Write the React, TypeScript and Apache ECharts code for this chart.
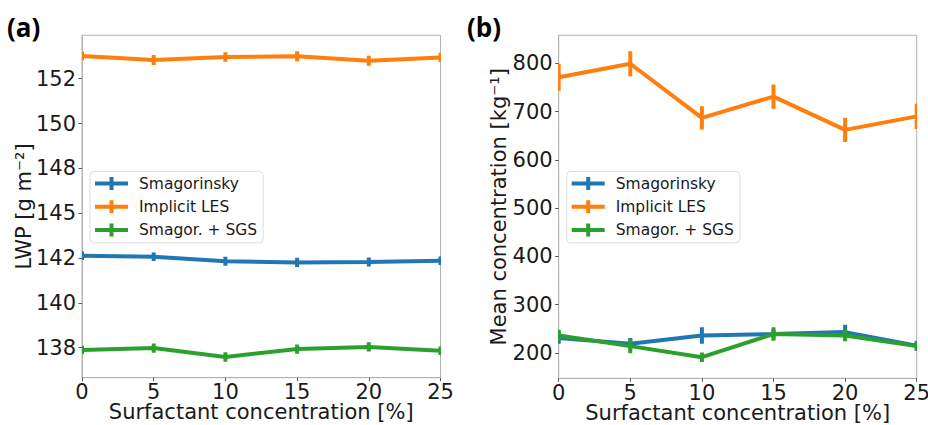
import React, { useEffect, useRef } from "react";
import * as echarts from "echarts";

// ---- data ----
const xValues = [0, 5, 10, 15, 20, 25];
const seriesNames = ["Smagorinsky", "Implicit LES", "Smagor. + SGS"];
const seriesColors = ["#1f77b4", "#ff7f0e", "#2ca02c"];

// Panel (a): LWP
const lwpSmag = [142.79, 142.74, 142.5, 142.44, 142.46, 142.53];
const lwpSmagErr = [0.22, 0.22, 0.24, 0.24, 0.23, 0.22];
const lwpImplicit = [153.18, 152.97, 153.13, 153.17, 152.94, 153.11];
const lwpImplicitErr = [0.22, 0.26, 0.25, 0.26, 0.26, 0.24];
const lwpSgs = [137.88, 137.98, 137.52, 137.93, 138.04, 137.84];
const lwpSgsErr = [0.22, 0.24, 0.25, 0.24, 0.24, 0.22];
const lwpTickLabels = ["138", "140", "142", "145", "148", "150", "152"];
const lwpTickFirst = 138;
const lwpTickLast = 152;
const lwpRange = [136.44, 154.26];

// Panel (b): mean concentration
const concSmag = [231, 219, 236, 239, 243, 215];
const concSmagErr = [12, 12, 17, 9, 15, 10];
const concImplicit = [771, 799, 687, 731, 662, 690];
const concImplicitErr = [28, 26, 24, 25, 25, 26];
const concSgs = [236, 214, 191, 239, 236, 214];
const concSgsErr = [12, 15, 10, 14, 12, 10];
const concTickLabels = ["200", "300", "400", "500", "600", "700", "800"];
const concRange = [147.3, 858];

const FONT = "DejaVu Sans";

const legendIcon =
  "path://M0,4.5 L14.5,4.5 L14.5,0 L18.5,0 L18.5,4.5 L33,4.5 L33,8.5 L18.5,8.5 L18.5,13 L14.5,13 L14.5,8.5 L0,8.5 Z";

function buildSeries(gridIdx: number, values: number[][], errs: number[][]) {
  const out: any[] = [];
  values.forEach((vals, i) => {
    const color = seriesColors[i];
    out.push({
      type: "line",
      name: seriesNames[i],
      xAxisIndex: gridIdx,
      yAxisIndex: gridIdx,
      data: xValues.map((x, k) => [x, vals[k]]),
      symbol: "none",
      lineStyle: { color, width: 4 },
      itemStyle: { color },
      clip: true,
      z: 2 + i,
    });
    out.push({
      type: "custom",
      name: seriesNames[i],
      xAxisIndex: gridIdx,
      yAxisIndex: gridIdx,
      data: xValues.map((x, k) => [x, vals[k], errs[i][k]]),
      encode: { x: 0, y: 1 },
      clip: true,
      z: 2 + i,
      itemStyle: { color },
      renderItem: (params: any, api: any) => {
        const x = api.value(0);
        const y = api.value(1);
        const e = api.value(2);
        const p1 = api.coord([x, y - e]);
        const p2 = api.coord([x, y + e]);
        return {
          type: "line",
          shape: { x1: p1[0], y1: p1[1], x2: p2[0], y2: p2[1] },
          style: { stroke: color, lineWidth: 4 },
        };
      },
    });
  });
  return out;
}

const axisLabelStyle = { fontFamily: FONT, fontSize: 21, color: "#1a1a1a" };
const gray = "#b3b3b3";

function xAxisCfg(gridIndex: number) {
  return {
    type: "value",
    gridIndex,
    min: 0,
    max: 25,
    interval: 5,
    name: "Surfactant concentration [%]",
    nameLocation: "middle",
    nameGap: 26,
    nameMoveOverlap: false,
    nameTextStyle: { fontFamily: FONT, fontSize: 21, lineHeight: 17, color: "#1a1a1a" },
    axisLine: { show: true, lineStyle: { color: gray, width: 1 } },
    axisTick: { show: true, length: 3.5, lineStyle: { color: "#555" } },
    axisLabel: { ...axisLabelStyle, lineHeight: 17, margin: 6 },
    splitLine: { show: false },
  };
}

function evenTicks(first: number, last: number, n: number) {
  const arr: number[] = [];
  for (let i = 0; i < n; i++) arr.push(first + ((last - first) * i) / (n - 1));
  return arr;
}

export default function App() {
  const ref = useRef<HTMLDivElement>(null);
  useEffect(() => {
    if (!ref.current) return;
    const chart = echarts.init(ref.current, null, { renderer: "svg" });
    const lwpTicks = evenTicks(lwpTickFirst, lwpTickLast, lwpTickLabels.length);
    const concTicks = concTickLabels.map((s) => Number(s));
    const labelFor = (ticks: number[], labels: string[]) => (v: number) => {
      let best = 0;
      ticks.forEach((t, i) => {
        if (Math.abs(t - v) < Math.abs(ticks[best] - v)) best = i;
      });
      return labels[best];
    };
    const legendCommon = {
      orient: "vertical",
      top: 171.5,
      icon: legendIcon,
      itemWidth: 33,
      itemHeight: 13,
      itemGap: 7.2,
      padding: [4, 6, 5, 5],
      backgroundColor: "#ffffff",
      borderColor: "#dddddd",
      borderWidth: 1,
      borderRadius: 4,
      itemStyle: { borderWidth: 0 },
      textStyle: {
        fontFamily: FONT,
        fontSize: 15.5,
        lineHeight: 15.5,
        color: "#1a1a1a",
        padding: [0, 0, 0, 6],
      },
      data: seriesNames,
      selectedMode: false,
    };
    const gridCommon = {
      show: true,
      borderColor: gray,
      borderWidth: 1,
      backgroundColor: "transparent",
      containLabel: false,
      outerBoundsMode: "none",
    };
    const option: any = {
      animation: false,
      backgroundColor: "#ffffff",
      grid: [
        { ...gridCommon, left: 82, top: 35.3, width: 358.5, height: 342.4 },
        { ...gridCommon, left: 558.7, top: 35.3, width: 358, height: 343 },
      ],
      xAxis: [xAxisCfg(0), xAxisCfg(1)],
      yAxis: [
        {
          type: "value",
          gridIndex: 0,
          min: lwpRange[0],
          max: lwpRange[1],
          name: "LWP [g m\u207B\u00B2]",
          nameLocation: "middle",
          nameGap: 48,
          nameMoveOverlap: false,
          nameTextStyle: { fontFamily: FONT, fontSize: 21, color: "#1a1a1a" },
          axisLine: { show: true, lineStyle: { color: gray } },
          axisTick: {
            show: true,
            length: 3.5,
            customValues: lwpTicks,
            lineStyle: { color: "#555" },
          },
          axisLabel: {
            ...axisLabelStyle,
            margin: 6,
            customValues: lwpTicks,
            formatter: labelFor(lwpTicks, lwpTickLabels),
          },
          splitLine: { show: false },
        },
        {
          type: "value",
          gridIndex: 1,
          min: concRange[0],
          max: concRange[1],
          name: "Mean concentration [kg\u207B\u00B9]",
          nameLocation: "middle",
          nameGap: 49,
          nameMoveOverlap: false,
          nameTextStyle: { fontFamily: FONT, fontSize: 21, color: "#1a1a1a" },
          axisLine: { show: true, lineStyle: { color: gray } },
          axisTick: {
            show: true,
            length: 3.5,
            customValues: concTicks,
            lineStyle: { color: "#555" },
          },
          axisLabel: {
            ...axisLabelStyle,
            margin: 6,
            customValues: concTicks,
            formatter: labelFor(concTicks, concTickLabels),
          },
          splitLine: { show: false },
        },
      ],
      legend: [
        { ...legendCommon, left: 90 },
        { ...legendCommon, left: 566.7 },
      ],
      graphic: [
        {
          type: "text",
          left: 7,
          top: 14,
          style: {
            text: "(a)",
            fontFamily: "Open Sans",
            fontWeight: "bold",
            fontSize: 26,
            fill: "#000",
          },
        },
        {
          type: "text",
          left: 467,
          top: 14,
          style: {
            text: "(b)",
            fontFamily: "Open Sans",
            fontWeight: "bold",
            fontSize: 26,
            fill: "#000",
          },
        },
      ],
      series: [
        ...buildSeries(0, [lwpSmag, lwpImplicit, lwpSgs], [lwpSmagErr, lwpImplicitErr, lwpSgsErr]),
        ...buildSeries(1, [concSmag, concImplicit, concSgs], [concSmagErr, concImplicitErr, concSgsErr]),
      ],
    };
    chart.setOption(option);
    return () => chart.dispose();
  }, []);
  return (
    <div
      ref={ref}
      style={{ position: "fixed", left: 0, top: 0, width: 928, height: 425 }}
    />
  );
}
